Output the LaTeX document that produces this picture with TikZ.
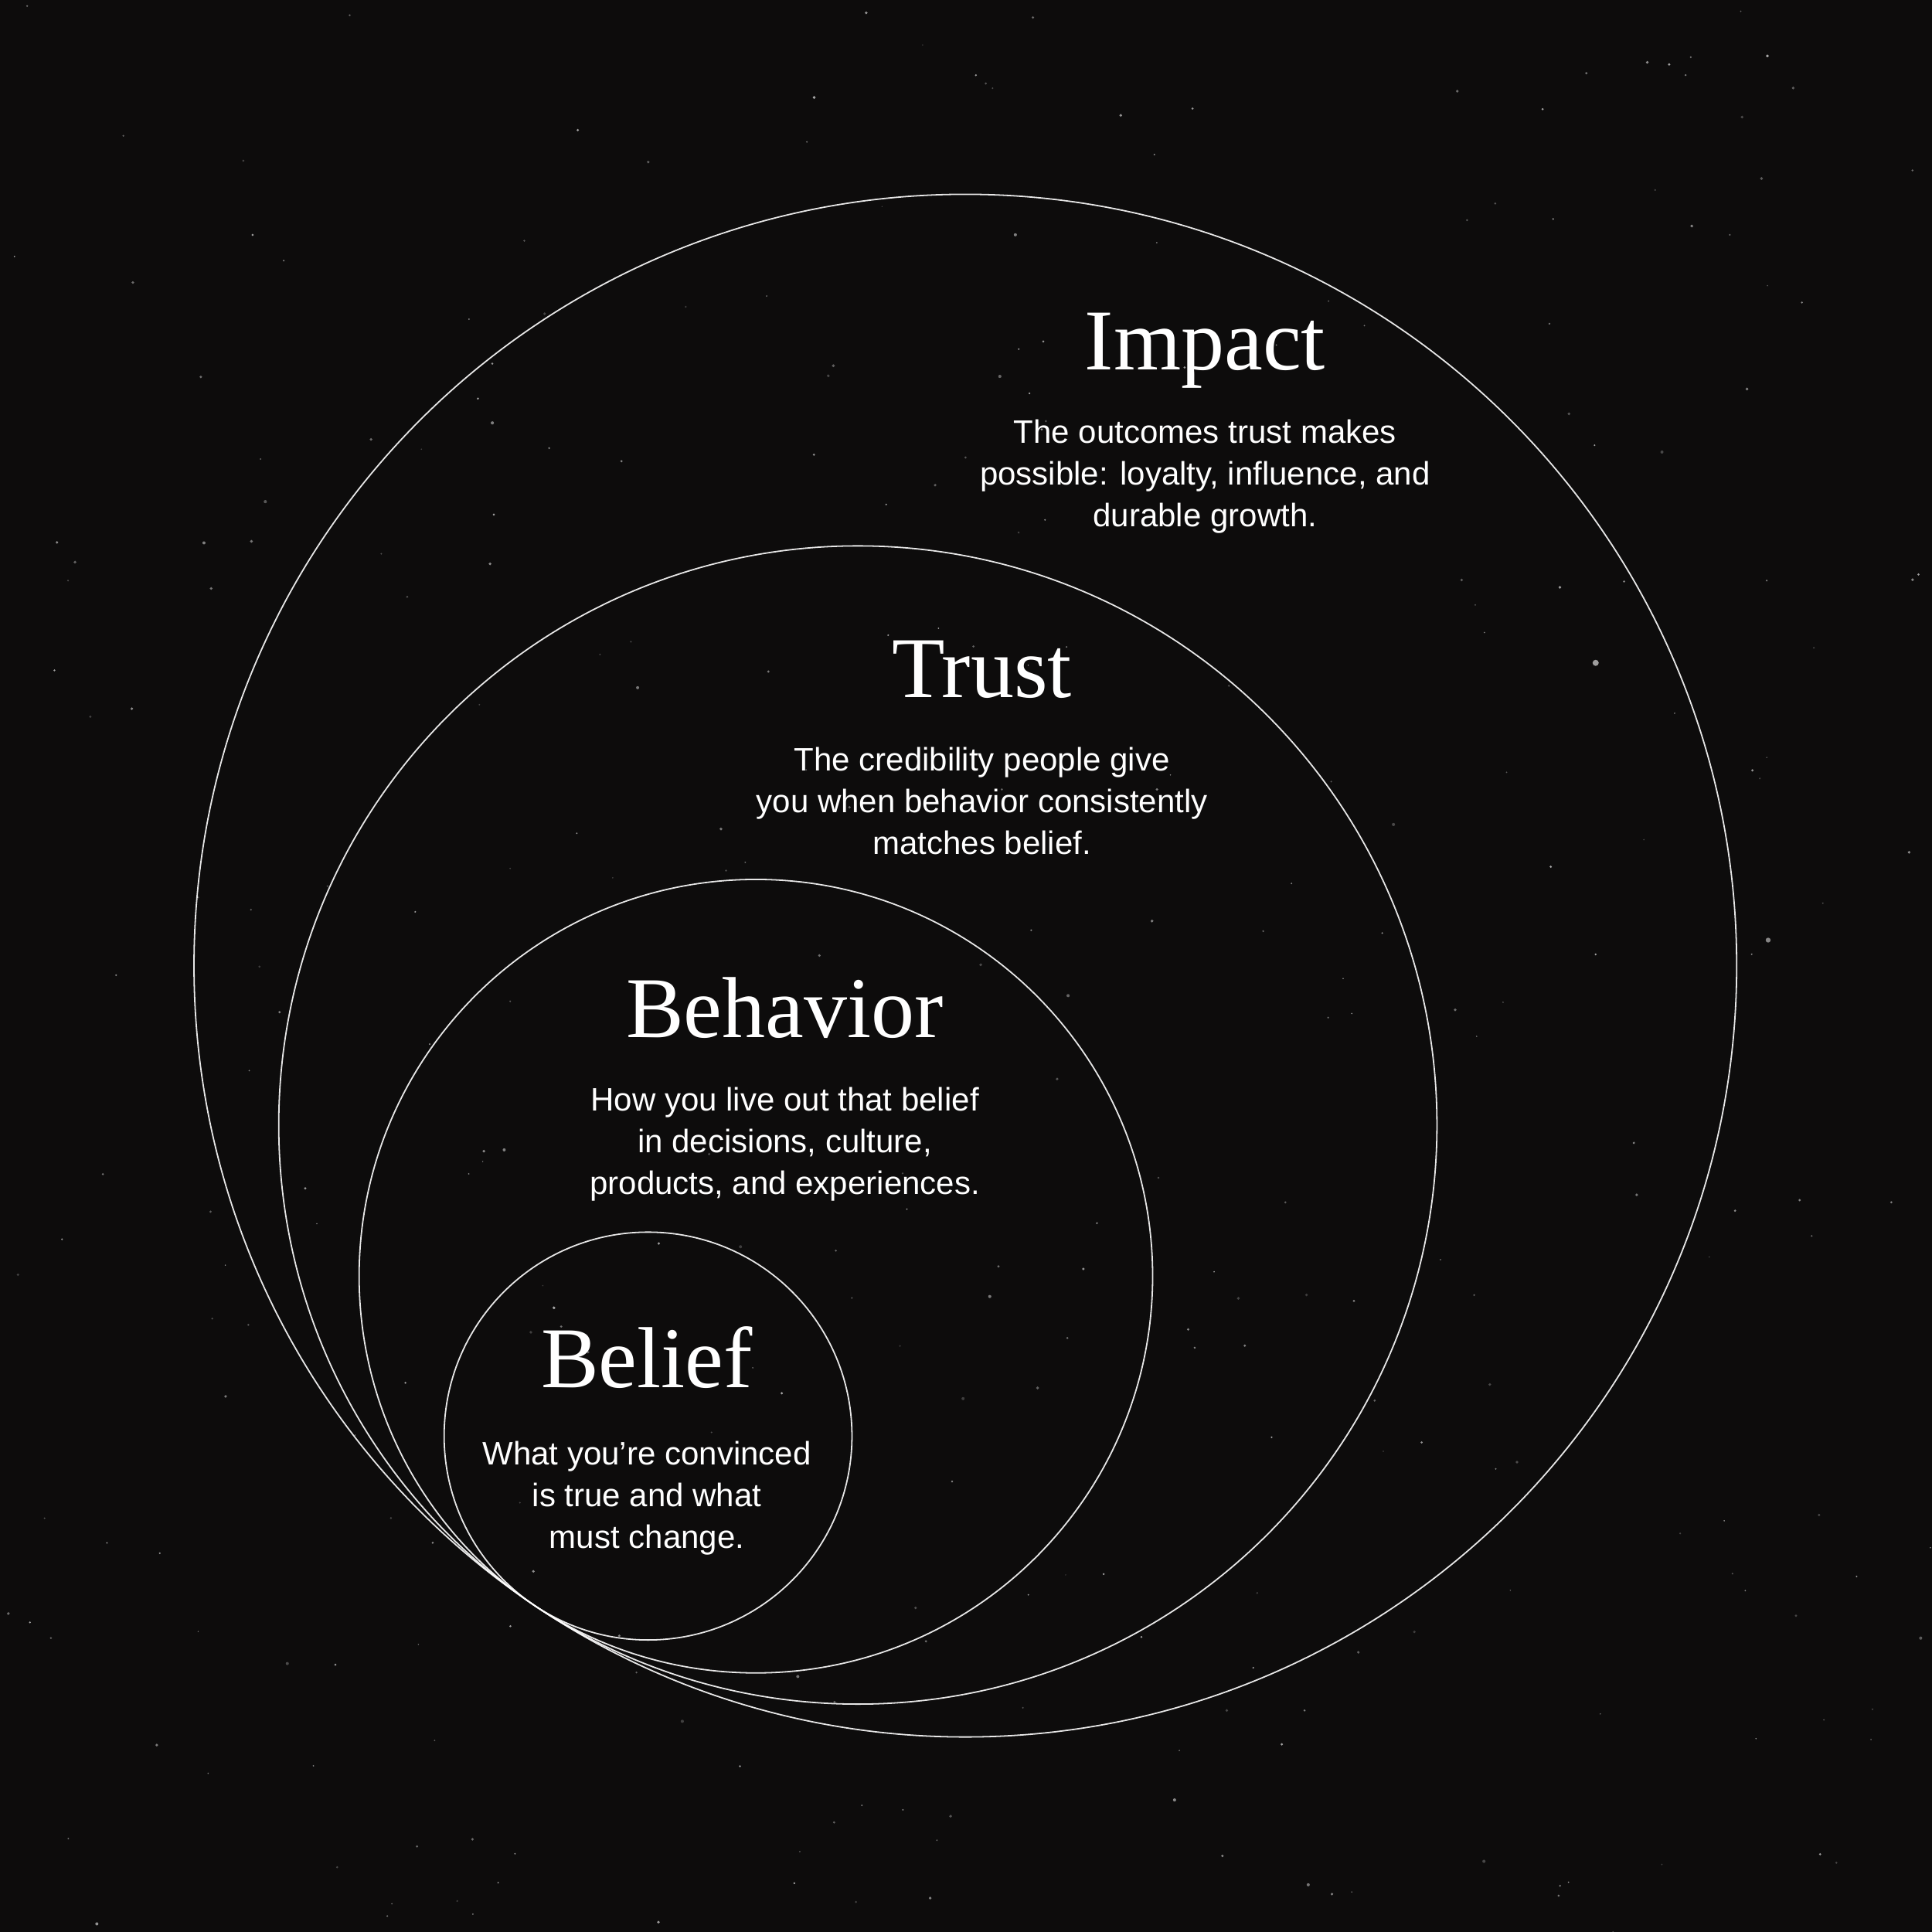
\documentclass[tikz,border=0pt]{standalone}
\usepackage{fontspec}
\usetikzlibrary{positioning, math}
\newfontfamily\titlefont{Liberation Serif}
\newfontfamily\bodyfont{Liberation Sans}
\definecolor{night}{HTML}{0D0C0C}
\tikzset{
ring/.style={draw=white, draw opacity=0.9, line width=0.32pt, circle, inner sep=0pt, outer sep=0pt},
title/.style={font=\titlefont\fontsize{20}{24}\selectfont, text=white, inner sep=0pt, anchor=base},
blurb/.style={font=\bodyfont\fontsize{7.5}{9.65}\selectfont, text=white, align=center, inner sep=0pt},
star/.style={fill=white},
}
\begin{document}
\begin{tikzpicture}
    \tikzmath{ \tx=4.334; \ty=2.653; \ux=cos(56); \uy=sin(56); };  % common tangent point and direction to the centres

    %background
    \fill[night] (0,0) rectangle (15.68,15.68);
    \useasboundingbox (0,0) rectangle (15.68,15.68);

    %stars
    \pgfmathsetseed{2500}
    \foreach \i in {1,...,320} {
        \pgfmathsetmacro{\sx}{rnd*15.68}
        \pgfmathsetmacro{\sy}{rnd*15.68}
        \pgfmathsetmacro{\sr}{0.005+0.008*rnd}
        \pgfmathsetmacro{\so}{0.2+0.45*rnd}
        \fill[star, fill opacity=\so] (\sx,\sy) circle (\sr);
    }
    \fill[star, fill opacity=0.6] (12.95,10.30) circle (0.025);
    \fill[star, fill opacity=0.5] (14.35,8.05) circle (0.02);

    %circles, all touching at one point
    \node[ring, minimum size=12.52cm] (impact)   at ({\tx+6.26*\ux}, {\ty+6.26*\uy}) { };
    \node[ring, minimum size=9.40cm]  (trust)    at ({\tx+4.70*\ux}, {\ty+4.70*\uy}) { };
    \node[ring, minimum size=6.44cm]  (behavior) at ({\tx+3.22*\ux}, {\ty+3.22*\uy}) { };
    \node[ring, minimum size=3.31cm]  (belief)   at ({\tx+1.655*\ux}, {\ty+1.655*\uy}) { };

    %titles
    \node[title] (impact-title)   at (9.78,12.68) {Impact};
    \node[title] (trust-title)    at (7.97,10.02) {Trust};
    \node[title] (behavior-title) at (6.37,7.26)  {Behavior};
    \node[title] (belief-title)   at (5.25,4.42)  {Belief};

    %texts under the titles
    \node[blurb, below=0.40cm of impact-title.base] (impact-text)
        {The outcomes trust makes\\possible: loyalty, influence, and\\durable growth.};
    \node[blurb, below=0.40cm of trust-title.base] (trust-text)
        {The credibility people give\\you when behavior consistently\\matches belief.};
    \node[blurb, below=0.40cm of behavior-title.base] (behavior-text)
        {How you live out that belief\\in decisions, culture,\\products, and experiences.};
    \node[blurb, below=0.43cm of belief-title.base] (belief-text)
        {What you’re convinced\\is true and what\\must change.};

\end{tikzpicture}
\end{document}
